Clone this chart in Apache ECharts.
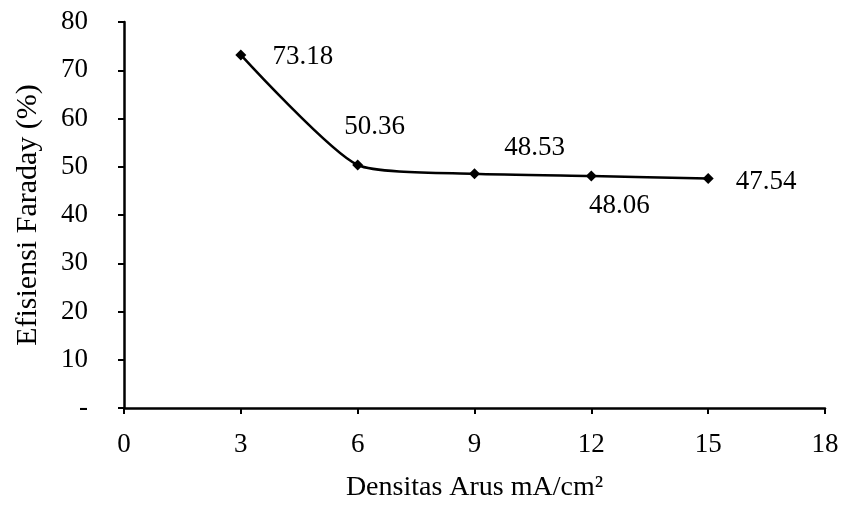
<!DOCTYPE html>
<html><head><meta charset="utf-8">
<script src="https://cdn.jsdelivr.net/npm/echarts@6/dist/echarts.min.js"></script>
<style>html,body{margin:0;padding:0;background:#fff}#c{width:843px;height:507px}</style>
</head><body><div id="c"></div>
<script>
const xValues = [3, 6, 9, 12, 15];
const yValues = [73.18, 50.36, 48.53, 48.06, 47.54];
const labelOffsets = [[62, 2], [17, -38], [60, -26], [28, 30], [58, 3]];
const xTitle = 'Densitas Arus mA/cm²';
const yTitle = 'Efisiensi Faraday (%)';
const font = 'Liberation Serif, Times New Roman, serif';

const data = xValues.map((x, i) => ({
  value: [x, yValues[i]],
  label: { offset: labelOffsets[i] }
}));

const chart = echarts.init(document.getElementById('c'));
chart.setOption({
  animation: false,
  grid: { left: 124, right: 18, top: 22, bottom: 97 },
  xAxis: {
    type: 'value', min: 0, max: 18, interval: 3,
    name: xTitle, nameLocation: 'middle', nameGap: 66,
    nameTextStyle: { fontFamily: font, fontSize: 28, color: '#000' },
    axisLine: { lineStyle: { color: '#000', width: 2.5 } },
    axisTick: { show: true, length: 6, lineStyle: { color: '#000', width: 2 } },
    axisLabel: { fontFamily: font, fontSize: 27, color: '#000', margin: 23 },
    splitLine: { show: false }
  },
  yAxis: {
    type: 'value', min: 0, max: 80, interval: 10,
    name: yTitle, nameLocation: 'middle', nameGap: 81,
    nameTextStyle: { fontFamily: font, fontSize: 30, color: '#000' },
    axisLine: { show: true, lineStyle: { color: '#000', width: 2.5 } },
    axisTick: { show: true, length: 6, lineStyle: { color: '#000', width: 2 } },
    axisLabel: { fontFamily: font, fontSize: 27, color: '#000', margin: 36,
      formatter: v => v === 0 ? '-' : String(v) },
    splitLine: { show: false }
  },
  series: [{
    type: 'line', data: data, smooth: 0.2,
    symbol: 'diamond', symbolSize: 11,
    lineStyle: { color: '#000', width: 2.5 },
    itemStyle: { color: '#000' },
    label: { show: true, position: 'inside', fontFamily: font, fontSize: 27, color: '#000',
      formatter: p => p.value[1].toFixed(2) }
  }]
});
</script></body></html>
